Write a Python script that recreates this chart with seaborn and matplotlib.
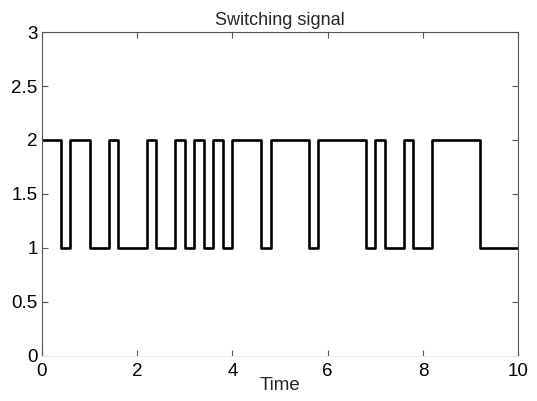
import matplotlib
matplotlib.use("Agg")
import matplotlib.pyplot as plt
import seaborn as sns
import pandas as pd

# switching instants and the active mode after each instant
switch_times = [0, 0.4, 0.6, 1.0, 1.4, 1.6, 2.2, 2.4, 2.8, 3.0, 3.2, 3.4, 3.6,
                3.8, 4.0, 4.6, 4.8, 5.6, 5.8, 6.8, 7.0, 7.2, 7.6, 7.8, 8.2,
                9.2, 10]
modes = [2, 1, 2, 1, 2, 1, 2, 1, 2, 1, 2, 1, 2,
         1, 2, 1, 2, 1, 2, 1, 2, 1, 2, 1, 2,
         1, 1]
x_ticks = [0, 2, 4, 6, 8, 10]
y_ticks = [0, 0.5, 1, 1.5, 2, 2.5, 3]
y_tick_labels = ["0", "0.5", "1", "1.5", "2", "2.5", "3"]

df = pd.DataFrame({"Time": switch_times, "sigma": modes})

sns.set_style("white")
plt.rcParams["font.family"] = ["Liberation Sans", "DejaVu Sans"]

fig = plt.figure(figsize=(5.37, 4.01), dpi=100)
ax = fig.add_axes([0.078, 0.113, 0.887, 0.807])

sns.lineplot(data=df, x="Time", y="sigma", ax=ax, color="black",
             linewidth=1.9, drawstyle="steps-post", estimator=None)

ax.set_xlim(0, 10)
ax.set_ylim(0, 3)
ax.set_xticks(x_ticks)
ax.set_yticks(y_ticks)
ax.set_yticklabels(y_tick_labels)
ax.tick_params(direction="in", length=4, width=0.8, colors="#555555",
               labelcolor="black", labelsize=13.5,
               top=True, right=True, bottom=True, left=True)
ax.tick_params(axis="x", pad=5)
ax.tick_params(axis="y", pad=3)
for side in ["left", "right", "top"]:
    ax.spines[side].set_color("#555555")
    ax.spines[side].set_linewidth(0.8)
ax.spines["bottom"].set_color("#eeeeee")

ax.set_xlabel("Time", fontsize=13.5, labelpad=-2)
ax.set_ylabel("")
ax.set_title("Switching signal", fontsize=13, pad=5)

fig.savefig("out.png", dpi=100)
